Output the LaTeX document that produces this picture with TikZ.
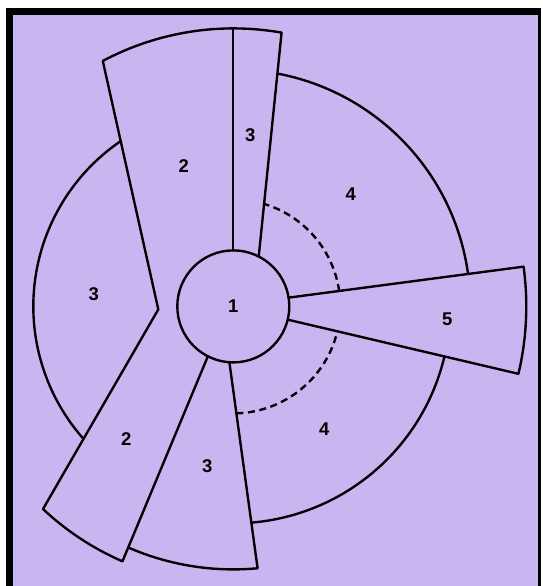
\documentclass[tikz,border=0pt]{standalone}
\usepackage{fontspec}
\setsansfont{Liberation Sans}
\usepackage{tikz}
\usetikzlibrary{calc}
\usepackage{tkz-euclide}
\definecolor{lilac}{RGB}{201,181,240}
\tikzset{rim/.style={black, line width=1.35pt},
         hidden/.style={black, line width=1.35pt, dash pattern=on 4pt off 2.6pt},
         lbl/.style={font=\sffamily\bfseries\fontsize{10.5}{12}\selectfont}}

\begin{document}
\begin{tikzpicture}
                \useasboundingbox (-4.666,-5.592) rectangle (6.174,6.128);
                \fill[white] (-4.666,-5.592) rectangle (6.174,6.128);
                \fill[black] (-4.546,-5.592) rectangle (6.154,5.968);
                \fill[lilac] (-4.406,-5.592) rectangle (6.094,5.828);
                \tkzDefPoint(0,0){O}
                \tkzDefPoint(90:1.12){A}
                \tkzDefPoint(90:5.56){B}
                \tkzDefPoint(80:5.56){C}
                \tkzDefPoint(63:1.12){D}
                \tkzDefPoint(118:5.56){E}
                \tkzDefPoint(-1.50,-0.06){K}
                \tkzDefPoint(226.8:5.56){F}
                \tkzDefPoint(246.5:5.56){G}
                \tkzDefPoint(243:1.12){H}
                \tkzDefPoint(266:1.12){I}
                \tkzDefPoint(275.3:5.26){J}
                \tkzDefPoint(9:1.12){Q}
                \tkzDefPoint(7.8:5.86){R}
                \tkzDefPoint(-13.3:5.86){S}
                \tkzDefPoint(-13.7:1.12){T}
                % ends of the arcs
                \tkzDefPoint(124.3:4){a1}
                \tkzDefPoint(221.5:4){a2}
                \tkzDefPoint(246.4:5.26){a3}
                \tkzDefPoint(274.8:4.34){a4}
                \tkzDefPoint(346.67:4.34){a5}
                \tkzDefPoint(7.86:4.74){a6}
                \tkzDefPoint(79.27:4.74){a7}
                \tkzDefPoint(271.65:2.14){d1}
                \tkzDefPoint(346.5:2.14){d2}
                \tkzDefPoint(8.29:2.14){d3}
                \tkzDefPoint(73.28:2.14){d4}
                \tkzDrawCircle[rim](O,A)
                \tkzDrawSegments[rim](A,B D,C E,K K,F H,G I,J Q,R T,S)
                \tkzDrawArc[rim](O,C)(E)
                \tkzDrawArc[rim](O,a1)(a2)
                \tkzDrawArc[rim](O,F)(G)
                \tkzDrawArc[rim](O,a3)(J)
                \tkzDrawArc[rim](O,a4)(a5)
                \tkzDrawArc[rim](O,a6)(a7)
                \tkzDrawArc[rim](O,S)(R)
                \tkzDrawArc[hidden](O,d1)(d2)
                \tkzDrawArc[hidden](O,d3)(d4)
                \node[lbl] (n1) at (0,0) {1};
                \node[lbl] (n2a) at (-0.99,2.81) {2};
                \node[lbl] (n3a) at (0.34,3.43) {3};
                \node[lbl] (n4a) at (2.35,2.24) {4};
                \node[lbl] (n3b) at (-2.79,0.25) {3};
                \node[lbl] (n5) at (4.28,-0.26) {5};
                \node[lbl] (n2b) at (-2.14,-2.66) {2};
                \node[lbl] (n3c) at (-0.52,-3.19) {3};
                \node[lbl] (n4b) at (1.82,-2.45) {4};
            \end{tikzpicture}
\end{document}
